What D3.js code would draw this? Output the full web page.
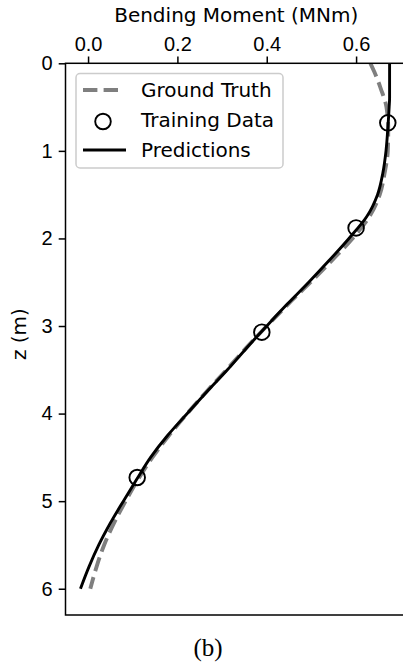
<!DOCTYPE html>
<html>
<head>
<meta charset="utf-8">
<script src="https://cdn.jsdelivr.net/npm/d3@7"></script>
<style>
  body { margin: 0; background: #fff; }
  svg { display: block; font-family: "DejaVu Sans", sans-serif; }
  .axis text { font-size: 20px; fill: #000; }
  .axis line { stroke: #000; stroke-width: 1.5; }
</style>
</head>
<body>
<svg id="chart" width="403" height="663"></svg>
<script>
'use strict';

// depth (m) and bending moment (MNm)
var aDepth = [0, 0.1, 0.2, 0.3, 0.4, 0.5, 0.75, 1.0, 1.25, 1.5, 1.75, 2.0, 2.25, 2.5, 2.75,
	3.0, 3.25, 3.5, 3.75, 4.0, 4.25, 4.5, 4.75, 5.0, 5.25, 5.5, 5.75, 6.0];
var aGroundTruth = [0.632, 0.641, 0.649, 0.656, 0.663, 0.668, 0.672, 0.671, 0.664, 0.653, 0.630, 0.592, 0.546, 0.498, 0.448,
	0.400, 0.354, 0.310, 0.265, 0.222, 0.181, 0.144, 0.112, 0.084, 0.058, 0.036, 0.019, 0.005];
var aPredictions = [0.675, 0.675, 0.675, 0.675, 0.675, 0.674, 0.671, 0.667, 0.660, 0.648, 0.624, 0.584, 0.540, 0.494, 0.446,
	0.400, 0.355, 0.312, 0.266, 0.222, 0.178, 0.140, 0.109, 0.079, 0.050, 0.024, 0.002, -0.017];

var aTrainDepth = [0.68, 1.88, 3.07, 4.73];
var aTrainMoment = [0.671, 0.600, 0.389, 0.110];

var aXTicks = [0.0, 0.2, 0.4, 0.6];
var aYTicks = [0, 1, 2, 3, 4, 5, 6];
var aLegends = ['Ground Truth', 'Training Data', 'Predictions'];

var sSvg = d3.select('#chart');

var rPlot = {left: 65.5, top: 63.3, right: 405, bottom: 615};

var scaleX = d3.scaleLinear().domain([-0.0505, 0.7095]).range([rPlot.left, rPlot.right]);
var scaleY = d3.scaleLinear().domain([0, 6.3]).range([rPlot.top, rPlot.bottom]);

sSvg.append('defs').append('clipPath').attr('id', 'plotclip')
	.append('rect')
		.attr('x', rPlot.left).attr('y', rPlot.top)
		.attr('width', rPlot.right - rPlot.left).attr('height', rPlot.bottom - rPlot.top);

// curves
function MakeLine(aValues)
{
	return d3.line()
		.x(function(d, i) { return scaleX(aValues[i]); })
		.y(function(d) { return scaleY(d); })
		.curve(d3.curveMonotoneY)(aDepth);
}

var sPlot = sSvg.append('g').attr('clip-path', 'url(#plotclip)');

sPlot.append('path')
	.attr('d', MakeLine(aGroundTruth))
	.attr('fill', 'none')
	.attr('stroke', '#7f7f7f')
	.attr('stroke-width', 3.9)
	.attr('stroke-dasharray', '14.4,6.2');

sPlot.append('path')
	.attr('d', MakeLine(aPredictions))
	.attr('fill', 'none')
	.attr('stroke', '#000')
	.attr('stroke-width', 2.9);

sPlot.selectAll('.train')
	.data(aTrainDepth)
	.enter()
		.append('circle')
			.attr('class', 'train')
			.attr('cx', function(d, i) { return scaleX(aTrainMoment[i]); })
			.attr('cy', function(d) { return scaleY(d); })
			.attr('r', 7.8)
			.attr('fill', 'none')
			.attr('stroke', '#000')
			.attr('stroke-width', 1.9);

// axes
var axisX = d3.axisTop(scaleX).tickValues(aXTicks).tickFormat(d3.format('.1f'))
	.tickSize(6.8).tickSizeOuter(0).tickPadding(5.5);
var axisY = d3.axisLeft(scaleY).tickValues(aYTicks).tickFormat(d3.format('d'))
	.tickSize(6.8).tickSizeOuter(0).tickPadding(6);

var sAxisX = sSvg.append('g').attr('class', 'axis')
	.attr('transform', 'translate(0,' + rPlot.top + ')')
	.call(axisX);
var sAxisY = sSvg.append('g').attr('class', 'axis')
	.attr('transform', 'translate(' + rPlot.left + ',0)')
	.call(axisY);
sAxisX.select('.domain').remove();
sAxisY.select('.domain').remove();
sSvg.selectAll('.axis text').attr('font-family', null);

// spines (right one falls outside the picture)
sSvg.append('rect')
	.attr('x', rPlot.left).attr('y', rPlot.top)
	.attr('width', rPlot.right - rPlot.left).attr('height', rPlot.bottom - rPlot.top)
	.attr('fill', 'none').attr('stroke', '#000').attr('stroke-width', 1.5);

// axis labels
sSvg.append('text')
	.attr('x', (rPlot.left + rPlot.right) / 2 + 1)
	.attr('y', 22)
	.attr('text-anchor', 'middle')
	.style('font-size', '20px')
	.text('Bending Moment (MNm)');

sSvg.append('text')
	.attr('transform', 'translate(26,' + ((rPlot.top + rPlot.bottom) / 2 - 5) + ') rotate(-90)')
	.attr('text-anchor', 'middle')
	.style('font-size', '20px')
	.text('z (m)');

// legend
var sLegendBox = sSvg.append('g').attr('class', 'legendbox');
sLegendBox.append('rect')
	.attr('x', 76).attr('y', 73.5)
	.attr('width', 207).attr('height', 94.5)
	.attr('rx', 4)
	.attr('fill', '#fff').attr('fill-opacity', 0.8)
	.attr('stroke', '#cccccc').attr('stroke-width', 1.5);

var sLegends = sLegendBox.selectAll('.legend')
	.data(aLegends)
	.enter()
		.append('g')
			.attr('class', 'legend')
			.attr('transform', function(d, i) { return 'translate(83,' + (90 + i * 30) + ')'; });

sLegends.append('text')
	.attr('x', 58)
	.attr('y', 7)
	.style('font-size', '20px')
	.text(function(d) { return d; });

sLegends.filter(function(d, i) { return i == 0; }).append('line')
	.attr('x1', 0).attr('x2', 40)
	.attr('stroke', '#7f7f7f').attr('stroke-width', 3.9)
	.attr('stroke-dasharray', '14.4,6.2');
sLegends.filter(function(d, i) { return i == 1; }).append('circle')
	.attr('cx', 20).attr('cy', 1.5).attr('r', 7.8)
	.attr('fill', 'none').attr('stroke', '#000').attr('stroke-width', 1.9);
sLegends.filter(function(d, i) { return i == 2; }).append('line')
	.attr('x1', 0).attr('x2', 43)
	.attr('stroke', '#000').attr('stroke-width', 2.9);

// panel caption
sSvg.append('text')
	.attr('x', 208)
	.attr('y', 656)
	.attr('text-anchor', 'middle')
	.style('font-family', '"Liberation Serif", serif')
	.style('font-size', '25px')
	.text('(b)');
</script>
</body>
</html>
